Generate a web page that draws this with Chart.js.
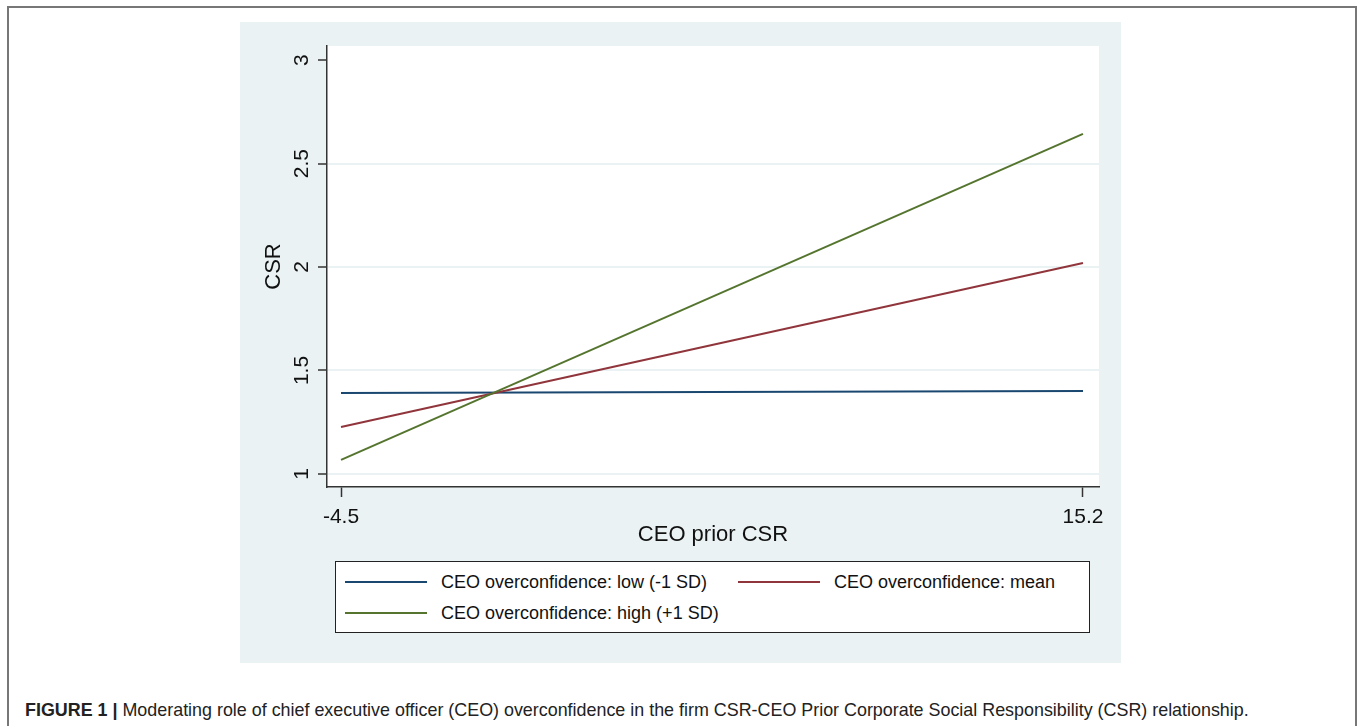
<!DOCTYPE html>
<html>
<head>
<meta charset="utf-8">
<script src="https://cdn.jsdelivr.net/npm/chart.js@4"></script>
<style>
  body { margin: 0; width: 1357px; height: 726px; overflow: hidden; background: #fff; font-family: "Liberation Sans", Arial, sans-serif; }
  #frame { position: absolute; left: 7px; top: 6px; width: 1346px; height: 800px; border: 2px solid #777; }
  #panel { position: absolute; left: 240px; top: 22px; width: 881px; height: 641px; background: #eaf2f3; }
  #legend { position: absolute; left: 335px; top: 561px; width: 753px; height: 70px; background: #fff; border: 1px solid #222; }
  .item { position: absolute; font-size: 18px; color: #111; line-height: 20px; }
  .item span { position: absolute; top: 9px; height: 2px; width: 82px; }
  .item b { font-weight: normal; margin-left: 96px; white-space: nowrap; }
  #caption { position: absolute; left: 25px; top: 700px; font-size: 17.9px; color: #222; white-space: nowrap; }
</style>
</head>
<body>
<div id="frame"></div>
<div id="panel"><canvas id="myChart" width="881" height="641"></canvas></div>
<div id="legend"></div>
<div id="caption"><strong>FIGURE 1 |</strong> Moderating role of chief executive officer (CEO) overconfidence in the firm CSR-CEO Prior Corporate Social Responsibility (CSR) relationship.</div>
<script>
const priorCsr = [-4.5, 15.2];
const lowSd = [1.391, 1.401];
const meanOc = [1.227, 2.019];
const highSd = [1.068, 2.643];
const seriesNames = ["CEO overconfidence: low (-1 SD)", "CEO overconfidence: mean", "CEO overconfidence: high (+1 SD)"];
const colors = ["#1a476f", "#90353b", "#55752f"];
const xTicks = [-4.5, 15.2];
const yTicks = [1, 1.5, 2, 2.5, 3];

const font = "'Liberation Sans', Arial, sans-serif";

function points(ys) {
  return priorCsr.map((x, i) => ({ x: x, y: ys[i] }));
}

// white plot region
const plotBg = {
  id: "plotBg",
  beforeDraw(chart) {
    const a = chart.chartArea;
    chart.ctx.save();
    chart.ctx.fillStyle = "#fff";
    chart.ctx.fillRect(a.left, a.top, a.right - a.left, a.bottom - a.top);
    chart.ctx.restore();
  },
};

const ctx = document.getElementById("myChart");
const myChart = new Chart(ctx, {
  type: "line",
  data: {
    datasets: [lowSd, meanOc, highSd].map((ys, i) => ({
      label: seriesNames[i],
      data: points(ys),
      borderColor: colors[i],
      borderWidth: 2,
      pointRadius: 0,
      order: 3 - i,
    })),
  },
  options: {
    responsive: false,
    animation: false,
    layout: { padding: { top: 24, right: 22, left: 0, bottom: 115 } },
    plugins: { legend: { display: false }, tooltip: { enabled: false } },
    scales: {
      x: {
        type: "linear",
        min: -4.872,
        max: 15.625,
        afterBuildTicks: (s) => { s.ticks = xTicks.map((v) => ({ value: v })); },
        afterFit: (s) => { s.height = 61; },
        grid: { drawOnChartArea: false, tickLength: 10, tickColor: "#333", tickWidth: 1.5 },
        border: { color: "#333", width: 1.5 },
        ticks: { font: { family: font, size: 21 }, color: "#111", padding: 8, maxRotation: 0, callback: (v) => String(v) },
        title: { display: true, text: "CEO prior CSR", font: { family: font, size: 22 }, color: "#111", padding: 0 },
      },
      y: {
        min: 0.937,
        max: 3.068,
        afterBuildTicks: (s) => { s.ticks = yTicks.map((v) => ({ value: v })); },
        afterFit: (s) => { s.width = 87; },
        grid: {
          color: (c) => (c.tick && c.tick.value === 3 ? "rgba(0,0,0,0)" : "#eaf2f3"),
          lineWidth: 2,
          tickLength: 9,
          tickColor: "#333",
          tickWidth: 1.5,
        },
        border: { color: "#333", width: 1.5 },
        ticks: { font: { family: font, size: 21 }, color: "#111", padding: 1, minRotation: 90, maxRotation: 90, crossAlign: "center", callback: (v) => String(v) },
        title: { display: true, text: "CSR", font: { family: font, size: 22 }, color: "#111", padding: { top: 21, bottom: 0 } },
      },
    },
  },
  plugins: [plotBg],
});

// legend box, Stata style
const legend = document.getElementById("legend");
const spots = [[9, 10], [402, 10], [9, 41]];
seriesNames.forEach((name, i) => {
  const d = document.createElement("div");
  d.className = "item";
  d.style.left = spots[i][0] + "px";
  d.style.top = spots[i][1] + "px";
  d.innerHTML = '<span style="background:' + colors[i] + '"></span><b>' + name + "</b>";
  legend.appendChild(d);
});
</script>
</body>
</html>
